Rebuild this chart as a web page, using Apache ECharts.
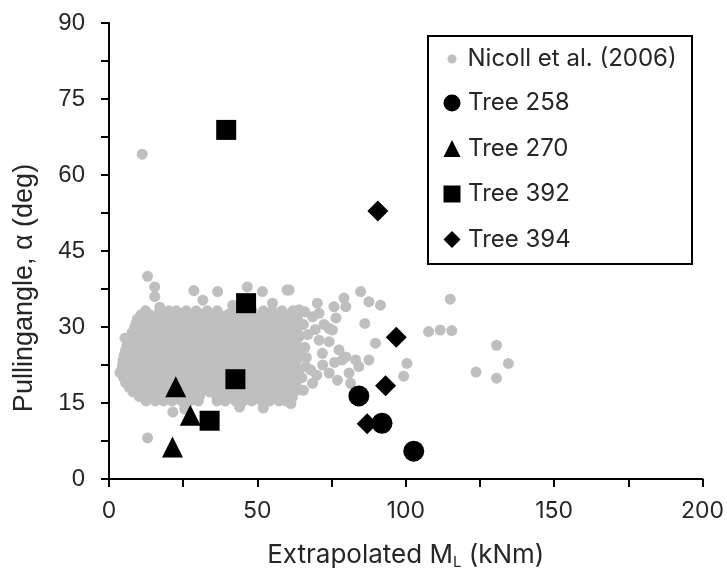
<!DOCTYPE html>
<html>
<head>
<meta charset="utf-8">
<script src="https://cdn.jsdelivr.net/npm/echarts@6/dist/echarts.min.js"></script>
<style>
  html, body { margin: 0; padding: 0; background: #ffffff; }
  #chart { width: 727px; height: 577px; }
</style>
</head>
<body>
<div id="chart"></div>
<script>
// Axis ranges and tick spacing
const xRange = [0, 200];
const xStep = 50;
const yRange = [0, 90];
const yStep = 15;

// Nicoll et al. (2006): dense core of the cloud, one row per angle level
const nicollRowAngles = [15.4, 16.3, 17.2, 18.1, 19.0, 19.9, 20.8, 21.7, 22.6, 23.5, 24.4,
                         25.3, 26.2, 27.1, 28.0, 28.9, 29.8, 30.7, 31.6, 32.4, 33.2];
const nicollRowMoments = [
  [12.5, 15.6, 18.4, 21.3, 24.5, 27.2, 30.1, 36.4, 39.2, 42.6, 45.3, 48.1, 51.4, 54.2, 57.3, 59.6],
  [10.2, 13.1, 16.0, 18.9, 21.8, 24.7, 27.6, 30.5, 36.3, 39.2, 42.1, 45.0, 47.9, 50.8, 53.7, 56.6, 59.5, 61.2],
  [8.1, 10.9, 13.8, 16.7, 19.5, 22.4, 25.3, 28.2, 31.0, 33.9, 36.8, 39.6, 42.5, 45.4, 48.3, 51.1, 54.0, 56.9, 59.7, 62.3],
  [6.8, 9.7, 12.6, 15.5, 18.4, 21.3, 24.2, 27.1, 30.0, 32.9, 35.8, 38.7, 41.6, 44.5, 47.4, 50.3, 53.2, 56.1, 59.0, 61.9],
  [5.6, 8.4, 11.3, 14.2, 17.0, 19.9, 22.8, 25.6, 28.5, 31.4, 34.3, 37.1, 40.0, 42.9, 45.7, 48.6, 51.5, 54.4, 57.2, 60.1, 63.0],
  [5.0, 7.8, 10.7, 13.6, 16.5, 19.4, 22.3, 25.2, 28.1, 31.0, 33.9, 36.8, 39.7, 42.6, 45.5, 48.4, 51.3, 54.2, 57.1, 60.0, 62.9],
  [4.4, 7.2, 10.1, 13.0, 15.8, 18.7, 21.6, 24.5, 27.3, 30.2, 33.1, 35.9, 38.8, 41.7, 44.6, 47.4, 50.3, 53.2, 56.0, 58.9, 61.8, 63.9],
  [4.4, 5.9, 8.8, 11.7, 14.6, 17.5, 20.4, 23.3, 26.2, 29.1, 32.0, 34.9, 37.8, 40.7, 43.6, 46.5, 49.4, 52.3, 55.2, 58.1, 61.0, 63.4],
  [4.6, 7.5, 10.3, 13.2, 16.1, 18.9, 21.8, 24.7, 27.6, 30.4, 33.3, 36.2, 39.0, 41.9, 44.8, 47.7, 50.5, 53.4, 56.3, 59.1, 62.0],
  [4.8, 6.1, 9.0, 11.9, 14.8, 17.7, 20.6, 23.5, 26.4, 29.3, 32.2, 35.1, 38.0, 40.9, 43.8, 46.7, 49.6, 52.5, 55.4, 58.3, 61.2, 63.3],
  [5.1, 7.9, 10.8, 13.7, 16.5, 19.4, 22.3, 25.2, 28.0, 30.9, 33.8, 36.6, 39.5, 42.4, 45.3, 48.1, 51.0, 53.9, 56.7, 59.6, 62.5],
  [5.5, 6.6, 9.5, 12.4, 15.3, 18.2, 21.1, 24.0, 26.9, 29.8, 32.7, 35.6, 38.5, 41.4, 44.3, 47.2, 50.1, 53.0, 55.9, 58.8, 61.7, 63.8],
  [6.0, 8.9, 11.8, 14.6, 17.5, 20.4, 23.2, 26.1, 29.0, 31.9, 34.7, 37.6, 40.5, 43.3, 46.2, 49.1, 52.0, 54.8, 57.7, 60.6, 63.4],
  [6.5, 7.5, 10.4, 13.3, 16.2, 19.1, 22.0, 24.9, 27.8, 30.7, 33.6, 36.5, 39.4, 42.3, 45.2, 48.1, 51.0, 53.9, 56.8, 59.7, 62.6],
  [7.1, 9.9, 12.8, 15.7, 18.6, 21.4, 24.3, 27.2, 30.0, 32.9, 35.8, 38.7, 41.5, 44.4, 47.3, 50.1, 53.0, 55.9, 58.8, 61.6, 64.0],
  [7.8, 8.4, 11.3, 14.2, 17.1, 20.0, 22.9, 25.8, 28.7, 31.6, 34.5, 37.4, 40.3, 43.2, 46.1, 49.0, 51.9, 54.8, 57.7, 60.6, 63.5],
  [8.6, 11.5, 14.4, 17.2, 20.1, 23.0, 25.9, 28.7, 31.6, 34.5, 37.3, 40.2, 43.1, 46.0, 48.8, 51.7, 54.6, 57.4, 60.3, 63.2],
  [9.1, 10.0, 12.9, 15.8, 18.7, 21.6, 24.5, 27.4, 30.3, 33.2, 36.1, 39.0, 41.9, 44.8, 47.7, 50.6, 53.5, 56.4, 59.3, 62.2, 64.0],
  [9.6, 12.4, 15.3, 18.2, 21.1, 23.9, 26.8, 29.7, 32.5, 35.4, 38.3, 41.2, 44.0, 46.9, 49.8, 52.6, 55.5, 58.4, 61.3, 63.5],
  [10.8, 13.8, 16.7, 19.6, 22.5, 25.4, 28.3, 31.2, 34.1, 37.0, 39.9, 42.8, 45.7, 48.6, 51.5, 54.4, 57.3, 60.2, 63.0],
  [12.3, 17.1, 20.2, 22.7, 26.0, 29.4, 33.1, 36.5, 41.7, 44.8, 48.2, 52.0, 55.1, 58.3, 62.0]
];

// Nicoll et al. (2006): individual points around the core [moment, angle]
const nicollScattered = [
  [13.0, 40.0], [15.4, 37.9], [15.4, 36.0], [28.6, 37.2], [36.6, 37.0], [46.6, 37.9],
  [51.7, 37.0], [60.0, 37.3], [60.7, 37.3], [31.6, 35.3], [41.7, 34.3], [55.1, 34.7],
  [17.1, 33.9], [5.4, 27.8], [3.7, 21.0], [13.0, 8.1], [11.2, 64.1],
  [21.5, 13.2], [25.5, 13.8], [44.0, 14.2], [52.0, 14.0], [61.3, 14.9],
  [65.5, 30.5], [66.0, 26.0], [65.0, 20.0], [66.5, 24.0], [67.0, 28.5], [66.0, 33.0],
  [65.5, 17.5], [68.0, 21.5],
  [70.2, 34.7], [70.8, 32.7], [75.8, 34.0], [79.2, 35.7], [79.8, 34.0], [84.8, 37.0],
  [87.6, 35.0], [91.5, 34.3], [86.2, 30.7], [89.8, 26.8], [100.4, 22.8], [99.3, 20.3],
  [115.0, 35.5], [107.7, 29.1], [111.6, 29.4], [115.5, 29.3], [130.6, 26.4], [134.6, 22.8],
  [123.7, 21.1], [130.6, 19.9], [81.4, 18.9],
  [64.1, 33.4], [68.6, 32.0], [74.2, 29.7], [75.3, 29.4], [70.8, 27.4], [74.2, 27.1],
  [77.5, 25.5], [79.8, 24.1], [83.1, 23.5], [84.2, 22.2], [87.6, 23.5], [80.9, 20.9],
  [74.2, 20.9], [68.6, 18.9], [64.1, 17.6], [71.9, 24.8], [78.6, 23.5], [66.3, 22.2],
  [63.0, 19.5], [61.8, 16.2],
  [72.5, 30.5], [76.5, 31.8], [69.5, 29.5], [72.0, 22.5], [76.0, 23.0], [70.0, 20.5], [77.0, 19.5]
];

// Trees [extrapolated moment kNm, pulling angle deg]
const tree258 = [[84.2, 16.4], [92.0, 11.0], [102.7, 5.5]];
const tree270 = [[22.5, 18.2], [27.4, 12.6], [21.4, 6.3]];
const tree392 = [[39.5, 68.9], [46.2, 34.7], [42.6, 19.7], [33.9, 11.5]];
const tree394 = [[90.6, 52.9], [96.8, 28.0], [93.2, 18.4], [87.0, 10.9]];

const seriesNames = ['Nicoll et al. (2006)', 'Tree 258', 'Tree 270', 'Tree 392', 'Tree 394'];
const yTitle = 'Pullingangle, α (deg)';
const xTitle = 'Extrapolated M{sub|L} (kNm)';

const nicollPoints = [];
nicollRowAngles.forEach(function (a, i) {
  nicollRowMoments[i].forEach(function (m) { nicollPoints.push([m, a]); });
});
nicollScattered.forEach(function (p) { nicollPoints.push(p); });

const GREY = '#bfbfbf';
const INK = '#000000';
const TEXT = '#262626';
const SANS = '"Liberation Sans", Arial, sans-serif';
const SOFT = 'Inter, "Noto Sans", sans-serif';

const chart = echarts.init(document.getElementById('chart'), null, { renderer: 'canvas' });

const treeSeries = function (name, data, symbol, size) {
  return {
    name: name, type: 'scatter', data: data, symbol: symbol, symbolSize: size,
    itemStyle: { color: INK, opacity: 1 }, z: 5, animation: false
  };
};

chart.setOption({
  backgroundColor: '#ffffff',
  animation: false,
  grid: { left: 109, right: 22, top: 23, bottom: 98, containLabel: false },
  xAxis: {
    type: 'value', min: xRange[0], max: xRange[1], interval: xStep,
    name: xTitle,
    nameLocation: 'middle', nameGap: 61,
    nameTextStyle: {
      fontFamily: SOFT, fontSize: 26, color: TEXT,
      rich: { sub: { fontFamily: SOFT, fontSize: 15, color: TEXT, verticalAlign: 'bottom', padding: [15, 0, 0, 0] } }
    },
    axisLine: { show: true, onZero: false, lineStyle: { color: INK, width: 2 } },
    axisTick: { show: true, inside: false, length: 8, lineStyle: { color: INK, width: 2 } },
    minorTick: { show: true, splitNumber: 2, length: 8, lineStyle: { color: INK, width: 2 } },
    splitLine: { show: false },
    axisLabel: { margin: 21, fontFamily: SOFT, fontSize: 23, color: TEXT }
  },
  yAxis: {
    type: 'value', min: yRange[0], max: yRange[1], interval: yStep,
    axisLine: { show: true, onZero: false, lineStyle: { color: INK, width: 2 } },
    axisTick: { show: true, inside: false, length: 8, lineStyle: { color: INK, width: 2 } },
    minorTick: { show: true, splitNumber: 2, length: 8, lineStyle: { color: INK, width: 2 } },
    splitLine: { show: false },
    axisLabel: { margin: 24, fontFamily: SANS, fontSize: 24, color: TEXT }
  },
  graphic: [{
    type: 'rect', left: 427, top: 35, z: 1,
    shape: { width: 264, height: 228 },
    style: { fill: '#ffffff', stroke: INK, lineWidth: 2 }
  }, {
    type: 'text', x: 25, y: 288, rotation: Math.PI / 2, z: 10,
    style: {
      text: yTitle, fontFamily: SANS, fontSize: 27, fill: TEXT,
      align: 'center', verticalAlign: 'middle'
    }
  }],
  legend: [{
    data: [{ name: seriesNames[0], icon: 'circle' }],
    orient: 'vertical', left: 447.5, top: 46, padding: 0,
    itemWidth: 9, itemHeight: 9, z: 10,
    textStyle: { fontFamily: SOFT, fontSize: 24, color: TEXT, lineHeight: 26, padding: [0, 0, 0, 6] }
  }, {
    data: [
      { name: seriesNames[1], icon: 'circle' },
      { name: seriesNames[2], icon: 'triangle' },
      { name: seriesNames[3], icon: 'rect' },
      { name: seriesNames[4], icon: 'diamond' }
    ],
    orient: 'vertical', left: 443.5, top: 90, itemGap: 19.5, padding: 0,
    itemWidth: 17, itemHeight: 17, z: 10,
    textStyle: { fontFamily: SOFT, fontSize: 24, color: TEXT, lineHeight: 26, padding: [0, 0, 0, 2.5] }
  }],
  series: [
    {
      name: seriesNames[0], type: 'scatter', data: nicollPoints,
      symbol: 'circle', symbolSize: 11,
      itemStyle: { color: GREY, opacity: 1 }, z: 2, animation: false
    },
    treeSeries(seriesNames[1], tree258, 'circle', 21),
    treeSeries(seriesNames[2], tree270, 'triangle', 21),
    treeSeries(seriesNames[3], tree392, 'rect', 20),
    treeSeries(seriesNames[4], tree394, 'diamond', 21)
  ]
});
</script>
</body>
</html>
